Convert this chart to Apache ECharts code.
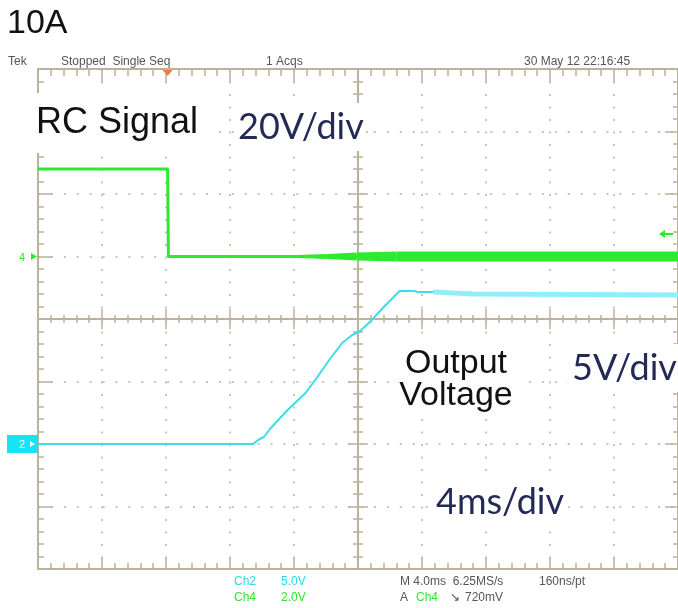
<!DOCTYPE html>
<html>
<head>
<meta charset="utf-8">
<script src="https://cdn.jsdelivr.net/npm/echarts@6/dist/echarts.min.js"></script>
<style>
html, body { margin: 0; padding: 0; background: #fff; }
#chart { width: 678px; height: 608px; }
</style>
</head>
<body>
<div id="chart"></div>
<script>
// time axis in ms, 4 ms/div, screen centre = 0
var timeMin = -20, timeMax = 20, timeDiv = 4;
var divMin = -4, divMax = 4;

// Ch4 - RC signal (2.0 V/div, ground marker 1 div above centre)
var ch4Scale = 2.0, ch4Offset = 1;
var ch4Time  = [-20, -11.9, -11.85, 20];
var ch4Volts = [2.8, 2.8, 0, 0];
// noise on the low level of Ch4 (lower and upper edge of the band, V)
var ch4NoiseTime = [-3.8, -1.9, -0.1, 2.4, 20];
var ch4NoiseLow  = [-0.05, -0.08, -0.13, -0.16, -0.16];
var ch4NoiseHigh = [0.05, 0.08, 0.13, 0.16, 0.16];
var triggerTime = -11.9, triggerLevel = 0.72;

// Ch2 - output voltage (5.0 V/div, ground marker 2 div below centre)
var ch2Scale = 5.0, ch2Offset = -2;
var ch2Time  = [-20, -6.56, -6.25, -5.88, -5.45, -4.4, -3.28, -2.54, -1.8, -0.99, -0.37, 0.06, 0.74, 1.61, 2.6, 3.47, 3.78, 4.71, 7.18, 20];
var ch2Volts = [0, 0, 0.32, 0.56, 1.28, 2.72, 4.08, 5.36, 6.72, 8.08, 8.72, 8.96, 9.76, 10.96, 12.24, 12.24, 12.16, 12.16, 12.0, 11.92];
var ch2SettleFrom = 4.7;

var headerTexts = ['Tek', 'Stopped  Single Seq', '1 Acqs', '30 May 12 22:16:45'];

var tan = '#bcb199';
var dot = '#c9c3b4';
var green = '#2eea2e';
var cyan = '#3ddcea';

function toDiv(t, v, scale, offset) {
  return t.map(function (x, i) { return [x, offset + v[i] / scale]; });
}

var ch4Data = toDiv(ch4Time, ch4Volts, ch4Scale, ch4Offset);
var ch4Band = ch4NoiseTime.slice(0, -1).map(function (t, i) {
  return [t, ch4Offset + ch4NoiseLow[i] / ch4Scale, ch4Offset + ch4NoiseHigh[i] / ch4Scale,
          ch4NoiseTime[i + 1], ch4Offset + ch4NoiseLow[i + 1] / ch4Scale, ch4Offset + ch4NoiseHigh[i + 1] / ch4Scale];
});
var ch2Data = toDiv(ch2Time, ch2Volts, ch2Scale, ch2Offset);
var ch2Settled = ch2Data.filter(function (p) { return p[0] >= ch2SettleFrom; });

function xAx(pos, onZero, tickLen, minorLen, split) {
  return {
    type: 'value', min: timeMin, max: timeMax, interval: timeDiv, position: pos,
    axisLine: { show: true, onZero: onZero, onZeroAxisIndex: 0, lineStyle: { color: tan, width: 2 } },
    axisTick: { show: true, inside: true, length: tickLen, lineStyle: { color: tan, width: 1.5 } },
    minorTick: { show: true, splitNumber: 5, length: minorLen, lineStyle: { color: tan, width: 1.5 } },
    axisLabel: { show: false },
    splitLine: { show: split, lineStyle: { color: dot, width: 2, type: [2, 10.5] } }
  };
}
function yAx(pos, onZero, tickLen, minorLen, split) {
  return {
    type: 'value', min: divMin, max: divMax, interval: 1, position: pos,
    axisLine: { show: true, onZero: onZero, onZeroAxisIndex: 0, lineStyle: { color: tan, width: 2 } },
    axisTick: { show: true, inside: true, length: tickLen, lineStyle: { color: tan, width: 1.5 } },
    minorTick: { show: true, splitNumber: 5, length: minorLen, lineStyle: { color: tan, width: 1.5 } },
    axisLabel: { show: false },
    splitLine: { show: split, lineStyle: { color: dot, width: 2, type: [2, 10.92] } }
  };
}

var chart = echarts.init(document.getElementById('chart'));
chart.setOption({
  animation: false,
  backgroundColor: '#fff',
  grid: { left: 38, top: 69, width: 647, height: 500 },
  xAxis: [
    xAx('bottom', false, 12, 6, true),
    xAx('top', false, 13, 7, false),
    xAx('bottom', true, 10, 4, false),
    xAx('top', true, 10, 4, false)
  ],
  yAxis: [
    yAx('left', false, 14, 6, true),
    yAx('right', false, 13, 5, false),
    yAx('left', true, 10, 5, false),
    yAx('right', true, 10, 5, false)
  ],
  series: [
    { name: 'Ch4 noise', type: 'custom', data: ch4Band, silent: true, z: 3,
      encode: { x: [0, 3], y: [1, 2, 4, 5] },
      renderItem: function (params, api) {
        var a = api.coord([api.value(0), api.value(1)]);
        var b = api.coord([api.value(3), api.value(4)]);
        var c = api.coord([api.value(3), api.value(5)]);
        var d = api.coord([api.value(0), api.value(2)]);
        return { type: 'polygon', shape: { points: [a, b, c, d] }, style: { fill: green } };
      } },
    { name: 'Ch4', type: 'line', data: ch4Data, showSymbol: false,
      lineStyle: { width: 3, color: green }, z: 4 },
    { name: 'Ch2', type: 'line', data: ch2Data, showSymbol: false,
      lineStyle: { width: 2, color: cyan }, z: 4 },
    { name: 'Ch2 settled', type: 'line', data: ch2Settled, showSymbol: false,
      lineStyle: { width: 5, color: '#8feef7' }, z: 5 }
  ]
});

function px(t, d) { return chart.convertToPixel({ xAxisIndex: 0, yAxisIndex: 0 }, [t, d]); }

var g4 = px(timeMin, ch4Offset);
var g2 = px(timeMin, ch2Offset);
var trg = px(triggerTime, divMax);
var lvl = px(timeMax, ch4Offset + triggerLevel / ch4Scale);

function txt(x, y, text, font, fill, extra) {
  var style = { text: text, font: font, fill: fill, align: 'left', verticalAlign: 'middle' };
  for (var k in extra) style[k] = extra[k];
  return { type: 'text', x: x, y: y, z: 50, style: style };
}
var small = '12px "Liberation Sans Narrow", "Liberation Sans", Arial, sans-serif';
var big = '36px "Liberation Sans", Arial, sans-serif';
var cal = '36px Lato, "Open Sans", sans-serif';
var navy = '#222a55';

chart.setOption({
  graphic: [
    txt(7, 24, '10A', 'normal 34px "Liberation Sans", Arial, sans-serif', '#111'),
    txt(8, 62, headerTexts[0], small, '#555'),
    txt(61, 62, headerTexts[1], small, '#555'),
    txt(266, 62, headerTexts[2], small, '#555'),
    txt(524, 62, headerTexts[3], small, '#555'),

    txt(32, 123, 'RC Signal', big, '#111', { backgroundColor: '#fff', padding: [12, 16, 12, 4] }),
    txt(234, 127, '20V/div', cal, navy, { backgroundColor: '#fff', padding: [6, 2, 6, 4] }),
    txt(456, 380, 'Output\nVoltage', '34px "Liberation Sans", Arial, sans-serif', '#111',
        { align: 'center', lineHeight: 32, backgroundColor: '#fff', padding: [4, 10, 4, 10] }),
    txt(568, 368, '5V/div', cal, navy, { backgroundColor: '#fff', padding: [6, 4, 6, 4] }),
    txt(432, 502, '4ms/div', cal, navy, { backgroundColor: '#fff', padding: [6, 4, 6, 4] }),

    // channel ground markers
    txt(g4[0] - 19, g4[1] + 1, '4', '11px "Liberation Sans", sans-serif', green),
    { type: 'polygon', z: 50, shape: { points: [[g4[0] - 7, g4[1] - 3.5], [g4[0] - 1, g4[1]], [g4[0] - 7, g4[1] + 3.5]] }, style: { fill: green } },
    { type: 'rect', z: 50, shape: { x: 7, y: g2[1] - 9, width: g2[0] - 7, height: 18 }, style: { fill: '#14e4f4' } },
    txt(19, g2[1] + 1, '2', '11px "Liberation Sans", sans-serif', '#fff'),
    { type: 'polygon', z: 51, shape: { points: [[g2[0] - 8, g2[1] - 3], [g2[0] - 3, g2[1]], [g2[0] - 8, g2[1] + 3]] }, style: { fill: '#fff' } },

    // trigger position and level
    { type: 'polygon', z: 50, shape: { points: [[trg[0] - 5, trg[1] + 1], [trg[0] + 5, trg[1] + 1], [trg[0], trg[1] + 7]] }, style: { fill: '#f27a3a' } },
    { type: 'polygon', z: 50, shape: { points: [[lvl[0] - 19, lvl[1]], [lvl[0] - 13, lvl[1] - 4], [lvl[0] - 13, lvl[1] + 4]] }, style: { fill: green } },
    { type: 'line', z: 50, shape: { x1: lvl[0] - 13, y1: lvl[1], x2: lvl[0] - 5, y2: lvl[1] }, style: { stroke: green, lineWidth: 2 } },

    // readout
    txt(234, 582, 'Ch2', small, '#2ad8ee'),
    txt(281, 582, '5.0V', small, '#2ad8ee'),
    txt(234, 598, 'Ch4', small, '#2fe62f'),
    txt(281, 598, '2.0V', small, '#2fe62f'),
    txt(400, 582, 'M 4.0ms  6.25MS/s', small, '#555'),
    txt(539, 582, '160ns/pt', small, '#555'),
    txt(400, 598, 'A', small, '#555'),
    txt(416, 598, 'Ch4', small, '#2fe62f'),
    txt(450, 598, '\u2198', small, '#555'),
    txt(465, 598, '720mV', small, '#555')
  ]
});
</script>
</body>
</html>
